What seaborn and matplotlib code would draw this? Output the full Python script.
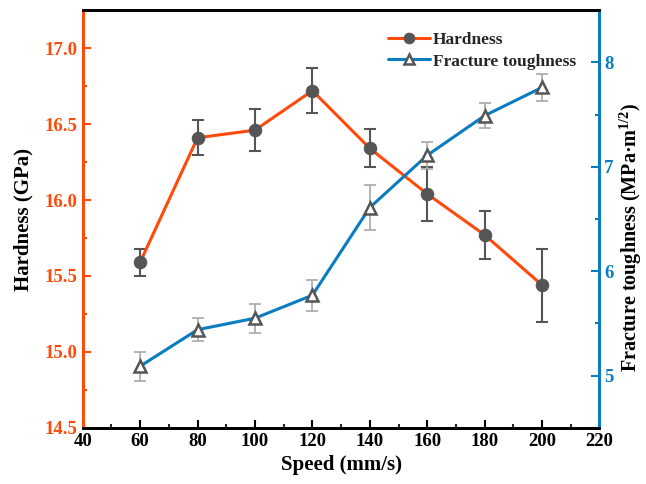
import numpy as np
import pandas as pd
import matplotlib
matplotlib.use('Agg')
import matplotlib.pyplot as plt
import seaborn as sns
from matplotlib.ticker import MultipleLocator

speed = [60, 80, 100, 120, 140, 160, 180, 200]
hardness = [15.59, 16.41, 16.46, 16.72, 16.34, 16.04, 15.77, 15.44]
hardness_err = [0.09, 0.115, 0.14, 0.15, 0.125, 0.18, 0.155, 0.24]
toughness = [5.09, 5.44, 5.55, 5.77, 6.61, 7.11, 7.49, 7.76]
toughness_err = [0.14, 0.11, 0.14, 0.15, 0.215, 0.13, 0.12, 0.13]

ORANGE = '#FF4A0A'
BLUE = '#0A7CC1'
GREY = '#555555'


def main():
    df = pd.DataFrame({'Speed': speed, 'Hardness': hardness, 'Toughness': toughness})

    sns.set_theme(style='ticks')
    plt.rcParams['font.family'] = ['Liberation Serif', 'DejaVu Serif']
    plt.rcParams['font.weight'] = 'bold'
    plt.rcParams['axes.labelweight'] = 'bold'
    plt.rcParams['mathtext.fontset'] = 'custom'
    plt.rcParams['mathtext.rm'] = 'Liberation Serif:bold'
    plt.rcParams['mathtext.bf'] = 'Liberation Serif:bold'
    plt.rcParams['mathtext.default'] = 'rm'

    fig = plt.figure(figsize=(6.46, 4.84), dpi=100)
    ax = fig.add_axes([0.128, 0.116, 0.800, 0.863])
    ax2 = ax.twinx()

    # hardness (left axis)
    ax.errorbar(speed, hardness, yerr=hardness_err, fmt='none', ecolor=GREY,
                elinewidth=1.5, capsize=4, capthick=1.5, zorder=2)
    sns.lineplot(data=df, x='Speed', y='Hardness', ax=ax, color=ORANGE, lw=2.2,
                 marker='o', markersize=9, markerfacecolor=GREY,
                 markeredgecolor=GREY, label='Hardness', legend=False, zorder=3)

    # fracture toughness (right axis)
    ax2.errorbar(speed, toughness, yerr=toughness_err, fmt='none', ecolor='#A8A8A8',
                 elinewidth=1.2, capsize=4, capthick=1.2, zorder=2)
    sns.lineplot(data=df, x='Speed', y='Toughness', ax=ax2, color=BLUE, lw=2.2,
                 marker='^', markersize=8, markerfacecolor='white',
                 markeredgecolor=GREY, markeredgewidth=1.8,
                 label='Fracture toughness', legend=False, zorder=3)

    ax.set_xlim(40, 220)
    ax.set_ylim(14.5, 17.25)
    ax2.set_ylim(4.5, 8.5)

    ax.xaxis.set_major_locator(MultipleLocator(20))
    ax.xaxis.set_minor_locator(MultipleLocator(10))
    ax.yaxis.set_major_locator(MultipleLocator(0.5))
    ax.yaxis.set_minor_locator(MultipleLocator(0.25))
    ax2.yaxis.set_major_locator(MultipleLocator(1))
    ax2.yaxis.set_minor_locator(MultipleLocator(0.5))

    ax.set_xlabel('Speed (mm/s)', fontsize=15, fontweight='bold', labelpad=4)
    ax.set_ylabel('Hardness (GPa)', fontsize=15, fontweight='bold', labelpad=8)
    ax2.set_ylabel('Fracture toughness (MPa\u00b7m$^{1/2}$)', fontsize=14.5,
                   fontweight='bold')
    ax2.yaxis.set_label_coords(1.036, 0.455)

    # spines
    for a in (ax, ax2):
        for s in a.spines.values():
            s.set_linewidth(2)
            s.set_color('black')
    ax.spines['left'].set_color(ORANGE)
    ax2.spines['left'].set_color(ORANGE)
    ax2.spines['right'].set_color(BLUE)
    ax.spines['right'].set_color(BLUE)

    ax.tick_params(axis='x', which='major', direction='in', length=6, width=1.5,
                   labelsize=13.5, colors='black', top=False)
    ax.tick_params(axis='x', which='minor', direction='in', length=3, width=1.5)
    ax.tick_params(axis='y', which='major', direction='in', length=6, width=1.5,
                   labelsize=13.5, colors=ORANGE)
    ax.tick_params(axis='y', which='minor', direction='in', length=3, width=1.5,
                   colors=ORANGE)
    ax2.tick_params(axis='y', which='major', direction='in', length=6, width=1.5,
                    labelsize=13.5, colors=BLUE)
    ax2.tick_params(axis='y', which='minor', direction='in', length=3, width=1.5,
                    colors=BLUE)
    ax.yaxis.label.set_color('black')
    ax2.yaxis.label.set_color('black')
    ax.xaxis.label.set_color('black')
    for lbl in ax.get_xticklabels() + ax.get_yticklabels() + ax2.get_yticklabels():
        lbl.set_fontweight('bold')

    h1, l1 = ax.get_legend_handles_labels()
    h2, l2 = ax2.get_legend_handles_labels()
    ax2.legend(h1 + h2, l1 + l2, loc='upper right', bbox_to_anchor=(0.985, 0.985),
               frameon=False, handlelength=2.4, handletextpad=0.2,
               labelspacing=0.3, markerscale=0.85,
               prop={'weight': 'bold', 'size': 12.5})

    fig.savefig('out.png', dpi=100)


if __name__ == '__main__':
    main()
